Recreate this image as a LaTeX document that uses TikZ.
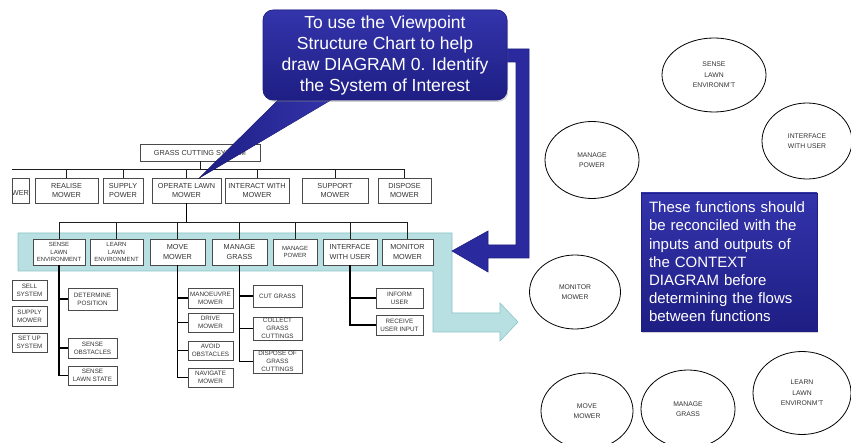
\documentclass[tikz,border=0pt]{standalone}
\usepackage{fontspec}
\setmainfont{Liberation Sans}
\usetikzlibrary{shapes.geometric,shadows}
\definecolor{cyanband}{HTML}{B8E0E2}
\definecolor{cyanedge}{HTML}{8CC3C7}
\definecolor{bluetop}{HTML}{3434AC}
\definecolor{bluemid}{HTML}{2A2A9E}
\definecolor{bluebot}{HTML}{1E1E84}
\definecolor{chartline}{HTML}{1E1E1E}
\definecolor{boxedge}{HTML}{4A4A4A}
\definecolor{boxtext}{HTML}{333333}
\newcommand\chartbox[7]{\node[cbox,#1,minimum width={(#5-#3)*1pt},minimum height={(#6-#4)*1pt}] (#2) at ({(#3+#5)/2},{(#4+#6)/2}) {#7};}
\begin{document}
\begin{tikzpicture}[x=1pt,y=-1pt,
  cbox/.style={draw=boxedge,line width=0.75pt,fill=white,text=boxtext,align=center,inner sep=0pt},
  fn/.style={font=\fontsize{7.3}{9.5}\selectfont},
  fs/.style={font=\fontsize{6}{7.3}\selectfont},
  fl/.style={font=\fontsize{6.3}{7.8}\selectfont},
  tline/.style={draw=chartline,line width=0.8pt},
  bline/.style={draw=black,line width=1.1pt},
  oval/.style={ellipse,draw=black,line width=0.8pt,text=boxtext,align=center,inner sep=0pt,font=\fontsize{6.8}{10.5}\selectfont},
  bluebox/.style={fill=bluemid,top color=bluetop,bottom color=bluebot,draw=bluebot,line width=0.6pt,text=white,
    drop shadow={shadow xshift=1.2pt,shadow yshift=-1.8pt,opacity=0.35}},
]
\useasboundingbox (0,0) rectangle (851,443);
\clip (0,0) rectangle (851,443);
\fill[white] (0,0) rectangle (851,443);

% light cyan band with L-arrow
\filldraw[fill=cyanband,draw=cyanedge,line width=0.6pt]
  (18,233) -- (452,233) -- (452,313) -- (500,313) -- (500,303) -- (518,322) -- (500,341) -- (500,332)
  -- (433,332) -- (433,271) -- (18,271) -- cycle;

% level 1
\chartbox{fn}{gcs}{140}{144}{260}{161}{GRASS CUTTING SYSTEM}
\chartbox{fn}{wer}{12}{178}{29}{203}{~\\WER}
\chartbox{fn}{realise}{35}{178}{98}{203}{REALISE\\MOWER}
\chartbox{fn}{supply}{103}{178}{143}{203}{SUPPLY\\POWER}
\chartbox{fn}{operate}{152}{178}{221}{203}{OPERATE LAWN\\MOWER}
\chartbox{fn}{interact}{225}{178}{289}{203}{INTERACT WITH\\MOWER}
\chartbox{fn}{support}{302}{178}{368}{203}{SUPPORT\\MOWER}
\chartbox{fn}{dispose}{378}{178}{431}{203}{DISPOSE\\MOWER}

% level 2
\chartbox{fs}{sense}{33}{239}{85}{265}{SENSE\\LAWN\\ENVIRONMENT}
\chartbox{fs}{learn}{90}{239}{143}{265}{LEARN\\LAWN\\ENVIRONMENT}
\chartbox{fn}{move}{150}{239}{205}{265}{MOVE\\MOWER}
\chartbox{fn}{grass}{212}{239}{267}{265}{MANAGE\\GRASS}
\chartbox{fs}{power}{273}{239}{317}{265}{MANAGE\\POWER}
\chartbox{fn}{iface}{323}{239}{377}{265}{INTERFACE\\WITH USER}
\chartbox{fn}{monitor}{382}{239}{433}{265}{MONITOR\\MOWER}

% lower boxes
\chartbox{fl}{sell}{12}{280}{47}{300}{SELL\\SYSTEM}
\chartbox{fl}{supplymower}{12}{306}{47}{326}{SUPPLY\\MOWER}
\chartbox{fl}{setup}{12}{333}{47}{352}{SET UP\\SYSTEM}
\chartbox{fl}{determine}{68}{288}{117}{310}{DETERMINE\\POSITION}
\chartbox{fl}{obstacles}{68}{338}{117}{358}{SENSE\\OBSTACLES}
\chartbox{fl}{lawnstate}{68}{366}{117}{385}{SENSE\\LAWN STATE}
\chartbox{fl}{manoeuvre}{188}{288}{233}{308}{MANOEUVRE\\MOWER}
\chartbox{fl}{drive}{188}{313}{233}{332}{DRIVE\\MOWER}
\chartbox{fl}{avoid}{188}{341}{233}{360}{AVOID\\OBSTACLES}
\chartbox{fl}{navigate}{188}{368}{233}{387}{NAVIGATE\\MOWER}
\chartbox{fl}{cut}{253}{285}{302}{307}{CUT GRASS}
\chartbox{fl}{collect}{253}{317}{302}{340}{COLLECT\\GRASS\\CUTTINGS}
\chartbox{fl}{disposeof}{253}{350}{302}{373}{DISPOSE OF\\GRASS\\CUTTINGS}
\chartbox{fl}{inform}{376}{288}{423}{308}{INFORM\\USER}
\chartbox{fl}{receive}{376}{315}{423}{335}{RECEIVE\\USER INPUT}

% connectors
\coordinate (l1y) at (0,169);
\coordinate (l2y) at (0,222);
\coordinate (l1) at (gcs.south |- l1y);
\coordinate (l1left) at (12,169);
\coordinate (l2) at (operate.south |- l2y);
\draw[tline] (l1) -- (l1left);
\foreach \c in {realise,supply,operate,interact,support,dispose}
  \draw[tline] (gcs.south) -- (l1) -| (\c.north);
\foreach \c in {sense,learn,move,grass,power,iface,monitor}
  \draw[tline] (operate.south) -- (l2) -| (\c.north);
\draw[bline] (operate.south) -- (l2);
\foreach \c in {determine,obstacles,lawnstate}
  \draw[bline] (sense.south) |- (\c.west);
\foreach \c in {manoeuvre,drive,avoid,navigate}
  \draw[bline] (move.south) |- (\c.west);
\foreach \c in {cut,collect,disposeof}
  \draw[bline] (grass.south) |- (\c.west);
\foreach \c in {inform,receive}
  \draw[bline] (iface.south) |- (\c.west);

% ellipses
\node[oval,minimum width=104pt,minimum height=74pt] (esense) at (714,75) {SENSE\\LAWN\\ENVIRONM'T};
\node[oval,minimum width=90pt,minimum height=76pt] (eiface) at (807,141) {INTERFACE\\WITH USER};
\node[oval,minimum width=94pt,minimum height=77pt] (epower) at (592,160) {MANAGE\\POWER};
\node[oval,minimum width=91pt,minimum height=74pt] (emonitor) at (575,292) {MONITOR\\MOWER};
\node[oval,minimum width=92pt,minimum height=76pt] (emove) at (587,411) {MOVE\\MOWER};
\node[oval,minimum width=94pt,minimum height=78pt] (egrass) at (688,409) {MANAGE\\GRASS};
\node[oval,minimum width=98pt,minimum height=83pt] (elearn) at (802,393) {LEARN\\LAWN\\ENVIRONM'T};

% callout pointer
\coordinate (tip) at (198,179);
\coordinate (pb1) at (282,96);
\coordinate (pb2) at (338,96);
\fill[left color=bluebot,right color=bluetop] (pb1) -- (tip) -- (pb2) -- cycle;

% blue L block arrow from callout to the band
\filldraw[fill=bluemid,draw=bluebot,line width=0.6pt]
  (500,49) -- (529,49) -- (529,258) -- (488,258) -- (488,272) -- (452,251) -- (488,231) -- (488,245)
  -- (516,245) -- (516,62) -- (500,62) -- cycle;

% callout
\node[bluebox,rounded corners=10pt,minimum width=244pt,minimum height=90pt,align=center,
  font=\fontsize{17.5}{21}\selectfont] (callout) at (385,55)
  {To use the Viewpoint\\Structure Chart to help\\draw DIAGRAM 0. Identify\\the System of Interest};

% note box
\node[bluebox,minimum width=176pt,minimum height=138pt,text width=160pt,inner xsep=8pt,align=left,
  font=\fontsize{15}{18.2}\selectfont] (note) at (729,262)
  {These functions should\\be reconciled with the\\inputs and outputs of\\the CONTEXT\\DIAGRAM before\\determining the flows\\between functions};
\end{tikzpicture}
\end{document}
